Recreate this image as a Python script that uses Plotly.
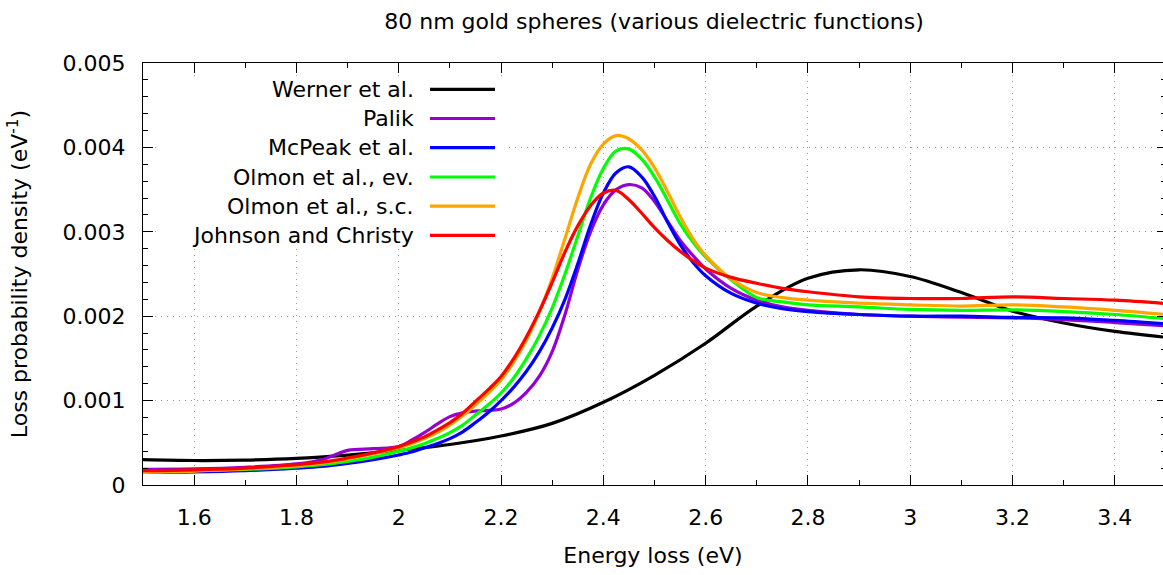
import numpy as np
import plotly.graph_objects as go

# ---------------- data (loss probability density in units of 1e-3 eV^-1) ----------------
energy_werner = [1.5, 1.6, 1.7, 1.8, 1.9, 2.0, 2.1, 2.2, 2.3, 2.4, 2.5, 2.6, 2.7, 2.8, 2.9,
                 3.0, 3.1, 3.2, 3.3, 3.4, 3.5]
werner = [0.30, 0.29, 0.295, 0.315, 0.355, 0.41, 0.48, 0.58, 0.73, 0.98, 1.30, 1.68, 2.12,
          2.45, 2.55, 2.47, 2.28, 2.06, 1.92, 1.82, 1.75]

energy = [1.5, 1.6, 1.7, 1.8, 1.85, 1.9, 1.95, 2.0, 2.025, 2.05, 2.075, 2.1, 2.125, 2.15,
          2.175, 2.2, 2.225, 2.25, 2.275, 2.3, 2.325, 2.35, 2.375, 2.4, 2.425, 2.45, 2.475,
          2.5, 2.525, 2.55, 2.575, 2.6, 2.65, 2.7, 2.75, 2.8, 2.9, 3.0, 3.1, 3.2, 3.3, 3.4, 3.5]
palik = [0.185, 0.19, 0.21, 0.25, 0.30, 0.41, 0.43, 0.455, 0.53, 0.62, 0.72, 0.81, 0.855,
         0.875, 0.885, 0.90, 0.97, 1.10, 1.29, 1.58, 2.02, 2.55, 3.0, 3.32, 3.50, 3.56, 3.52,
         3.36, 3.13, 2.90, 2.72, 2.56, 2.33, 2.19, 2.11, 2.07, 2.02, 2.00, 1.99, 1.98, 1.96,
         1.925, 1.885]
mcpeak = [0.15, 0.155, 0.17, 0.20, 0.22, 0.255, 0.30, 0.356, 0.39, 0.44, 0.49, 0.55, 0.63,
          0.74, 0.86, 1.0, 1.16, 1.35, 1.58, 1.86, 2.20, 2.62, 3.08, 3.46, 3.70, 3.77, 3.65,
          3.42, 3.12, 2.85, 2.64, 2.48, 2.27, 2.155, 2.09, 2.055, 2.02, 2.00, 2.00, 1.985,
          1.98, 1.95, 1.91]
olmon_ev = [0.16, 0.17, 0.185, 0.215, 0.24, 0.28, 0.33, 0.40, 0.44, 0.49, 0.55, 0.62, 0.71,
            0.83, 0.95, 1.09, 1.27, 1.50, 1.77, 2.10, 2.50, 2.95, 3.40, 3.75, 3.96, 3.98,
            3.86, 3.65, 3.38, 3.10, 2.88, 2.70, 2.43, 2.22, 2.17, 2.135, 2.11, 2.08, 2.07,
            2.075, 2.055, 2.02, 1.97]
olmon_sc = [0.15, 0.165, 0.19, 0.23, 0.26, 0.31, 0.37, 0.44, 0.49, 0.55, 0.62, 0.71, 0.82,
            0.95, 1.09, 1.245, 1.46, 1.72, 2.05, 2.45, 2.92, 3.40, 3.80, 4.04, 4.14, 4.10,
            3.97, 3.76, 3.48, 3.18, 2.92, 2.72, 2.44, 2.28, 2.22, 2.19, 2.155, 2.135, 2.12,
            2.135, 2.11, 2.07, 2.02]
johnson_christy = [0.17, 0.18, 0.20, 0.24, 0.27, 0.32, 0.38, 0.455, 0.51, 0.57, 0.65, 0.74,
                   0.85, 0.99, 1.13, 1.285, 1.50, 1.76, 2.06, 2.40, 2.76, 3.07, 3.31, 3.46,
                   3.49, 3.38, 3.22, 3.05, 2.90, 2.77, 2.66, 2.57, 2.46, 2.39, 2.33, 2.29,
                   2.23, 2.21, 2.21, 2.23, 2.21, 2.19, 2.15]

UNIT = 1e-3  # values above are in 1e-3 eV^-1

series_names = ["Werner et al.", "Palik", "McPeak et al.", "Olmon et al., ev.",
                "Olmon et al., s.c.", "Johnson and Christy"]
series_colors = ["#000000", "#9400d3", "#0000ff", "#00ff00", "#ffa500", "#ff0000"]
series_x = [energy_werner, energy, energy, energy, energy, energy]
series_y = [werner, palik, mcpeak, olmon_ev, olmon_sc, johnson_christy]

y_tickvals = [0, 0.001, 0.002, 0.003, 0.004, 0.005]
y_ticktext = ["0", "0.001", "0.002", "0.003", "0.004", "0.005"]

FONT = "DejaVu Sans"
FS = 22

fig = go.Figure()
for name, col, xs, ys in zip(series_names, series_colors, series_x, series_y):
    fig.add_trace(go.Scatter(
        x=xs, y=np.array(ys) * UNIT, mode="lines", name=name,
        line=dict(color=col, width=3.2, shape="spline", smoothing=1.0),
        showlegend=False, hoverinfo="skip"))

# helper trace for right-hand mirrored ticks
fig.add_trace(go.Scatter(x=[None], y=[None], yaxis="y2", showlegend=False, hoverinfo="skip"))

# ---------------- layout ----------------
W, H = 1163, 575
L, R, T, B = 143, 0, 63, 90
pw, ph = W - L - R, H - T - B

def px2paper_x(px):
    return (px - L) / pw

def py2paper_y(py):
    return (H - B - py) / ph

x_max = 1.5 + (W - L) / 511.5

grid = dict(showgrid=True, gridcolor="#9a9a9a", griddash="1px,5px", gridwidth=1)

fig.update_layout(
    width=W, height=H,
    margin=dict(l=L, r=R, t=T, b=B, pad=0),
    paper_bgcolor="white", plot_bgcolor="white",
    font=dict(family=FONT, size=FS, color="black"),
    title=dict(text="80 nm gold spheres (various dielectric functions)",
               font=dict(family=FONT, size=FS, color="black"),
               xref="container", yref="container",
               x=654 / W, y=1 - 21 / H, xanchor="center", yanchor="middle"),
    xaxis=dict(
        range=[1.5, x_max], tickmode="linear", tick0=1.6, dtick=0.2,
        ticks="inside", ticklen=10, tickwidth=1, tickcolor="black",
        showline=True, linecolor="black", linewidth=1, mirror="ticks",
        zeroline=False, tickfont=dict(size=FS), ticklabelstandoff=13,
        minor=dict(tickmode="linear", tick0=1.5, dtick=0.1, ticks="inside",
                   ticklen=5, tickcolor="black", showgrid=False),
        title=dict(text="Energy loss (eV)", font=dict(size=FS), standoff=18),
        **grid),
    yaxis=dict(
        range=[0, 0.005], tickmode="array", tickvals=y_tickvals, ticktext=y_ticktext,
        ticks="inside", ticklen=10, tickwidth=1, tickcolor="black",
        showline=True, linecolor="black", linewidth=1, mirror=False,
        zeroline=False, tickfont=dict(size=FS), ticklabelstandoff=12,
        minor=dict(tickmode="linear", tick0=0, dtick=0.0002, ticks="inside",
                   ticklen=5, tickcolor="black", showgrid=False),
        title=dict(text="Loss probability density (eV<sup>-1</sup>)", font=dict(size=FS),
                   standoff=28),
        **grid),
    yaxis2=dict(
        overlaying="y", side="right", matches="y", range=[0, 0.005],
        tickmode="array", tickvals=y_tickvals, showticklabels=False,
        ticks="inside", ticklen=6, tickcolor="black", showline=False, showgrid=False,
        zeroline=False,
        minor=dict(tickmode="linear", tick0=0, dtick=0.0002, ticks="inside",
                   ticklen=2, tickcolor="black", showgrid=False)),
)

# ---------------- manual key (text right-aligned, sample line on the right) ----------------
shapes = [dict(type="rect", xref="paper", yref="paper",
               x0=px2paper_x(157), x1=px2paper_x(505),
               y0=py2paper_y(248), y1=py2paper_y(76),
               fillcolor="white", line=dict(width=0), layer="above")]
annotations = []
row_y = [89.3, 118.5, 147.7, 177.0, 206.2, 235.4]
for name, col, ry in zip(series_names, series_colors, row_y):
    annotations.append(dict(text=name, xref="paper", yref="paper",
                            x=px2paper_x(416), y=py2paper_y(ry),
                            xanchor="right", yanchor="middle", showarrow=False,
                            font=dict(family=FONT, size=FS, color="black")))
    shapes.append(dict(type="line", xref="paper", yref="paper",
                       x0=px2paper_x(430), x1=px2paper_x(495),
                       y0=py2paper_y(ry), y1=py2paper_y(ry),
                       line=dict(color=col, width=3.2), layer="above"))

fig.update_layout(shapes=shapes, annotations=annotations)

fig.write_html("out.html")
